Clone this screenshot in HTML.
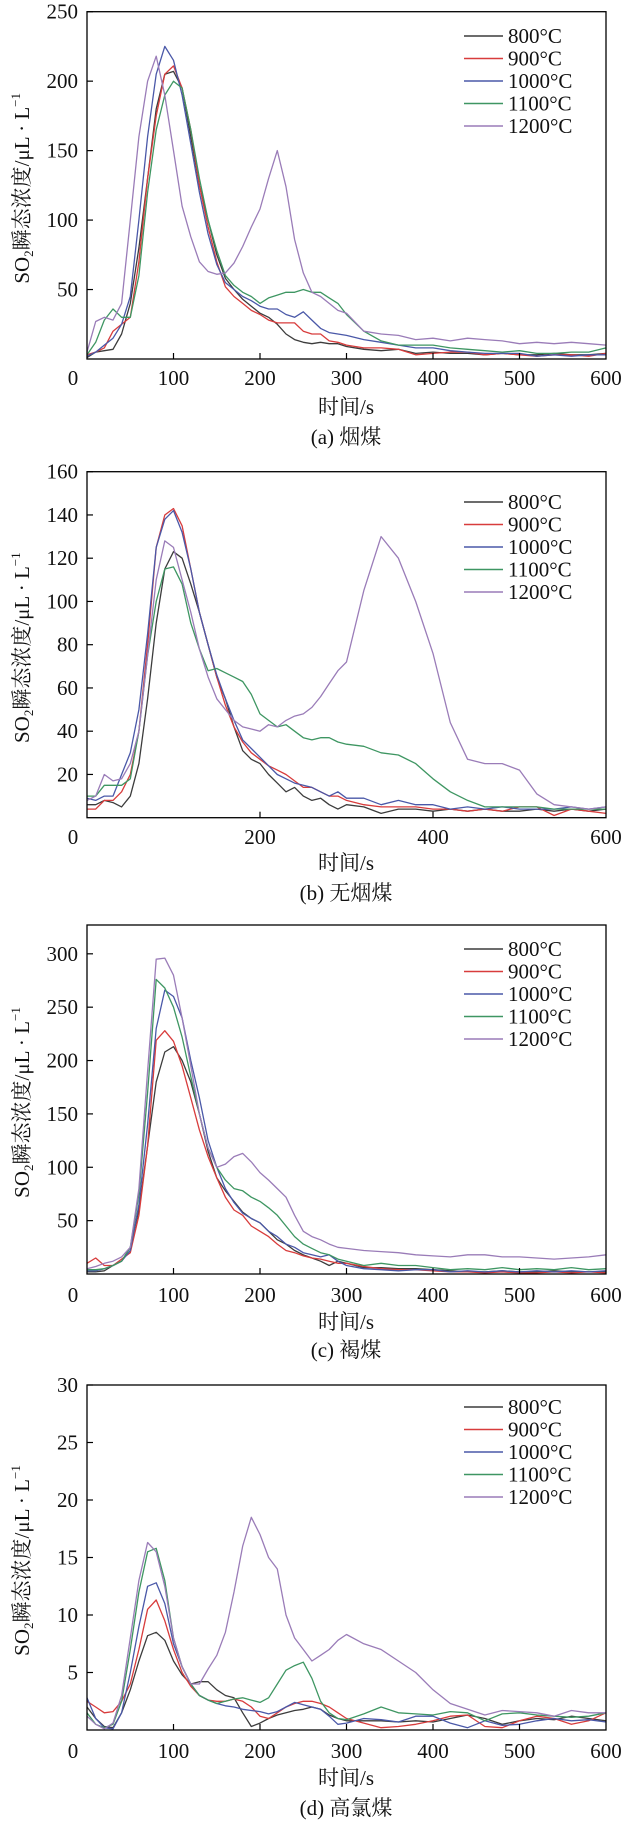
<!DOCTYPE html>
<html><head><meta charset="utf-8"><style>
html,body{margin:0;padding:0;background:#fff}
svg{display:block}
text{font-family:"Liberation Serif","Noto Serif CJK SC",serif;fill:#111}
</style></head><body>
<svg id="fig" width="627" height="1822" viewBox="0 0 627 1822" xmlns="http://www.w3.org/2000/svg"></svg>
<script>
const times = [0,10,20,30,40,50,60,70,80,90,100,110,120,130,140,150,160,170,180,190,200,210,220,230,240,250,260,270,280,290,300,320,340,360,380,400,420,440,460,480,500,520,540,560,580,600];
const seriesNames = ["800°C","900°C","1000°C","1100°C","1200°C"];
const seriesColors = ["#3c3c3c","#d83c3c","#4a58a8","#3e9662","#9a7cb8"];

const a800 = [1,5,6,7,18,40,80,130,180,205,207,195,160,125,100,75,58,50,43,38,33,30,25,18,14,12,11,12,11,11,9,7,6,7,4,5,4,4,3,4,3,3,4,3,3,4];
const a900 = [3,5,8,20,25,30,70,130,175,205,211,195,165,125,95,70,52,45,40,35,32,28,26,26,26,20,18,18,13,12,10,8,8,7,3,4,5,5,3,4,3,2,3,3,2,4];
const a1000 = [2,5,10,15,25,45,100,160,205,225,215,190,155,120,90,68,55,50,45,42,38,36,36,32,30,34,28,22,19,18,17,14,12,10,8,8,6,5,4,4,4,2,3,2,3,3];
const a1100 = [3,12,28,36,30,30,60,120,165,190,200,195,165,130,100,78,60,53,48,45,40,44,46,48,48,50,48,48,44,40,32,20,13,10,10,10,8,7,6,5,6,4,4,5,5,8];
const a1200 = [5,27,30,28,40,100,160,200,218,190,150,110,88,70,63,61,62,69,81,95,108,130,150,124,86,62,48,45,40,35,33,20,18,17,14,15,13,15,14,13,11,12,11,12,11,10];

const b800 = [6,6,8,7,5,10,25,55,90,115,123,120,108,95,80,65,55,42,31,27,25,20,16,12,14,10,8,9,6,4,6,5,2,4,4,3,4,3,4,3,3,4,3,4,3,4];
const b900 = [4,4,8,8,12,20,40,80,125,140,143,135,115,95,80,65,52,42,35,30,27,24,22,20,17,14,14,12,10,10,8,6,5,5,5,4,4,3,4,3,5,5,1,4,3,2];
const b1000 = [9,8,10,10,20,30,50,85,125,138,142,132,115,95,80,66,55,45,36,32,28,24,20,18,16,15,14,12,10,12,9,9,6,8,6,6,4,5,4,5,4,4,4,5,4,5];
const b1100 = [10,10,15,15,15,18,40,75,100,115,116,108,90,78,68,69,67,65,63,57,48,45,42,43,40,37,36,37,37,35,34,33,30,29,25,18,12,8,5,5,5,5,4,4,4,4];
const b1200 = [8,10,20,17,18,25,40,75,110,128,125,110,95,78,65,55,50,45,42,41,40,43,42,45,47,48,51,56,62,68,72,105,130,120,100,76,44,27,25,25,22,11,6,5,4,5];

const c800 = [2,2,3,8,12,25,60,120,180,208,213,200,180,150,115,90,78,68,58,52,48,40,32,28,22,18,15,12,8,12,10,6,6,5,5,4,3,2,2,3,2,2,3,2,2,2];
const c900 = [10,15,8,8,14,20,55,120,219,228,218,195,165,135,110,90,72,60,55,45,40,35,28,22,20,17,15,14,12,10,10,7,5,4,4,3,2,2,1,2,1,1,2,1,2,1];
const c1000 = [3,3,5,8,12,22,65,140,230,266,260,240,200,165,125,100,80,67,57,52,48,40,35,28,25,20,18,16,18,12,8,5,4,3,4,4,2,3,2,3,2,3,2,3,2,3];
const c1100 = [4,4,5,8,12,25,75,170,276,268,250,222,185,150,118,100,88,80,78,72,68,62,55,45,35,28,24,20,18,14,12,8,10,8,8,6,4,5,4,6,4,5,4,6,4,5];
const c1200 = [5,7,10,12,16,25,80,190,295,296,280,240,195,150,118,100,103,110,113,105,95,88,80,72,55,40,35,32,28,25,24,22,21,20,18,17,16,18,18,16,16,15,14,15,16,18];

const d800 = [2,1,0.3,0.2,1.5,3.5,6,8.2,8.5,7.8,6,4.8,4,4.2,4.2,3.5,3,2.8,1.5,0.3,0.6,1,1.3,1.5,1.7,1.8,2,1.8,1.3,1,0.8,0.8,0.8,0.7,0.8,0.7,1,1.3,1,0.5,0.8,1,0.9,1.2,1,0.8];
const d900 = [2.5,2,1.5,1.6,2.5,4,7,10.5,11.3,9.5,7,5,3.8,3,2.6,2.5,2.5,2.7,2.5,2,1.2,1,1.5,2,2.3,2.5,2.5,2.3,2,1.5,1,0.6,0.2,0.3,0.5,0.8,1.2,1.3,0.3,0.2,0.8,1.2,1,0.5,0.8,1.5];
const d1000 = [2.8,1,0.2,0.1,1.5,5,9,12.5,12.8,11,7.5,5.5,4,3,2.6,2.3,2.1,2,1.8,1.7,1.6,1.4,1.6,2,2.4,2.2,2,1.8,1.2,0.5,0.6,1,0.9,0.7,1.2,1.2,0.6,0.2,0.8,0.4,0.5,0.8,1,0.8,0.9,0.7];
const d1100 = [1.5,0.5,0.2,0.5,2.5,7,12,15.5,15.8,13,8,5.5,4,3,2.6,2.3,2.5,2.7,2.8,2.6,2.4,2.8,4,5.2,5.6,5.9,4.5,2.5,1.5,1,0.9,1.4,2,1.5,1.4,1.3,1.6,1.5,0.8,1.4,1.5,1.3,1.2,1.1,1.2,1.5];
const d1200 = [1.2,0.5,0.1,0.6,3,8,13,16.3,15.5,12.5,8,5.5,4,4,5.3,6.5,8.5,12,16,18.5,17,15,14,10,8,7,6,6.5,7,7.8,8.3,7.5,7,6,5,3.5,2.3,1.8,1.3,1.7,1.6,1.5,1.2,1.7,1.5,1.5];

const yTicksA = [50,100,150,200,250];
const yTicksB = [20,40,60,80,100,120,140,160];
const yTicksC = [50,100,150,200,250,300];
const yTicksD = [5,10,15,20,25,30];
const xTicks100 = [0,100,200,300,400,500,600];
const xTicks200 = [0,200,400,600];
const captions = ["(a) 烟煤","(b) 无烟煤","(c) 褐煤","(d) 高氯煤"];

const panels = [
 {key:"a",top:11.7,bottom:359,ymax:250,yt:yTicksA,xt:xTicks100,lab:378,tit:407,cap:437,leg:36,data:[a800,a900,a1000,a1100,a1200]},
 {key:"b",top:471.7,bottom:817.7,ymax:160,yt:yTicksB,xt:xTicks200,lab:837,tit:863,cap:893,leg:502,data:[b800,b900,b1000,b1100,b1200]},
 {key:"c",top:925,bottom:1274,ymax:327,yt:yTicksC,xt:xTicks100,lab:1295,tit:1322,cap:1350,leg:949,data:[c800,c900,c1000,c1100,c1200]},
 {key:"d",top:1385,bottom:1730,ymax:30,yt:yTicksD,xt:xTicks100,lab:1751,tit:1778,cap:1808,leg:1407,data:[d800,d900,d1000,d1100,d1200]}
];

const NS = "http://www.w3.org/2000/svg";
const svg = document.getElementById("fig");
const L = 87, R = 606, XMAX = 600;
function mk(tag, attrs, parent){const e=document.createElementNS(NS,tag);for(const k in attrs)e.setAttribute(k,attrs[k]);(parent||svg).appendChild(e);return e;}

panels.forEach((p,pi)=>{
  const g = mk("g",{});
  
  
  const xs = t => L + (t/XMAX)*(R-L);
  const ys = v => p.bottom - (v/p.ymax)*(p.bottom-p.top);

  // series
  p.data.forEach((arr,si)=>{
    let d="";
    arr.forEach((v,i)=>{ d += (i?"L":"M")+xs(times[i]).toFixed(1)+","+ys(v).toFixed(1); });
    const path = mk("path",{d:d,fill:"none",stroke:seriesColors[si],"stroke-width":"1.3","stroke-linejoin":"round"},g);
    
    
  });

  // frame
  const fr = mk("rect",{x:L,y:p.top,width:R-L,height:p.bottom-p.top,fill:"none",stroke:"#000","stroke-width":"1.3"},g);
  
  

  // y ticks
  p.yt.forEach(v=>{
    const y = ys(v);
    const tk = mk("line",{x1:L,x2:L+6,y1:y,y2:y,stroke:"#000","stroke-width":"1.2"},g);
    
    
    const tx = mk("text",{x:78,y:y+7,"text-anchor":"end","font-size":"21"},g);
    tx.textContent = v;
    
    
  });
  // x ticks
  p.xt.forEach(t=>{
    const x = xs(t);
    if(t>0 && t<XMAX){
      const tk = mk("line",{x1:x,x2:x,y1:p.bottom,y2:p.bottom-6,stroke:"#000","stroke-width":"1.2"},g);
      
      
    }
    const tx = mk("text",{x:(t===0?73:x),y:p.lab+7,"text-anchor":"middle","font-size":"21"},g);
    tx.textContent = t;
    
    
  });
  // axis titles
  const xt = mk("text",{x:346,y:p.tit+7,"text-anchor":"middle","font-size":"21"},g);
  xt.textContent = "时间/s";
  
  
  const cy = (p.top+p.bottom)/2 + 3;
  const yt = mk("text",{x:0,y:0,"text-anchor":"middle","font-size":"21",transform:"translate(29,"+cy+") rotate(-90)"},g);
  
  
  const t1 = mk("tspan",{},yt); t1.textContent="SO";
  const t2 = mk("tspan",{"font-size":"13",dy:"4"},yt); t2.textContent="2";
  const t3 = mk("tspan",{dy:"-4"},yt); t3.textContent="瞬态浓度/μL · L";
  const t4 = mk("tspan",{"font-size":"13",dy:"-9"},yt); t4.textContent="−1";
  // caption
  const cp = mk("text",{x:346,y:p.cap+7,"text-anchor":"middle","font-size":"21"},g);
  cp.textContent = captions[pi];
  
  
  // legend
  const lg = mk("g",{},g);
  
  
  seriesNames.forEach((n,si)=>{
    const y = p.leg + si*22.5;
    const ln = mk("line",{x1:464,x2:503,y1:y,y2:y,stroke:seriesColors[si],"stroke-width":"1.6"},lg);
    
    
    const tx = mk("text",{x:508,y:y+7,"font-size":"21"},lg);
    tx.textContent = n;
    
    
  });
});
</script>
</body></html>
